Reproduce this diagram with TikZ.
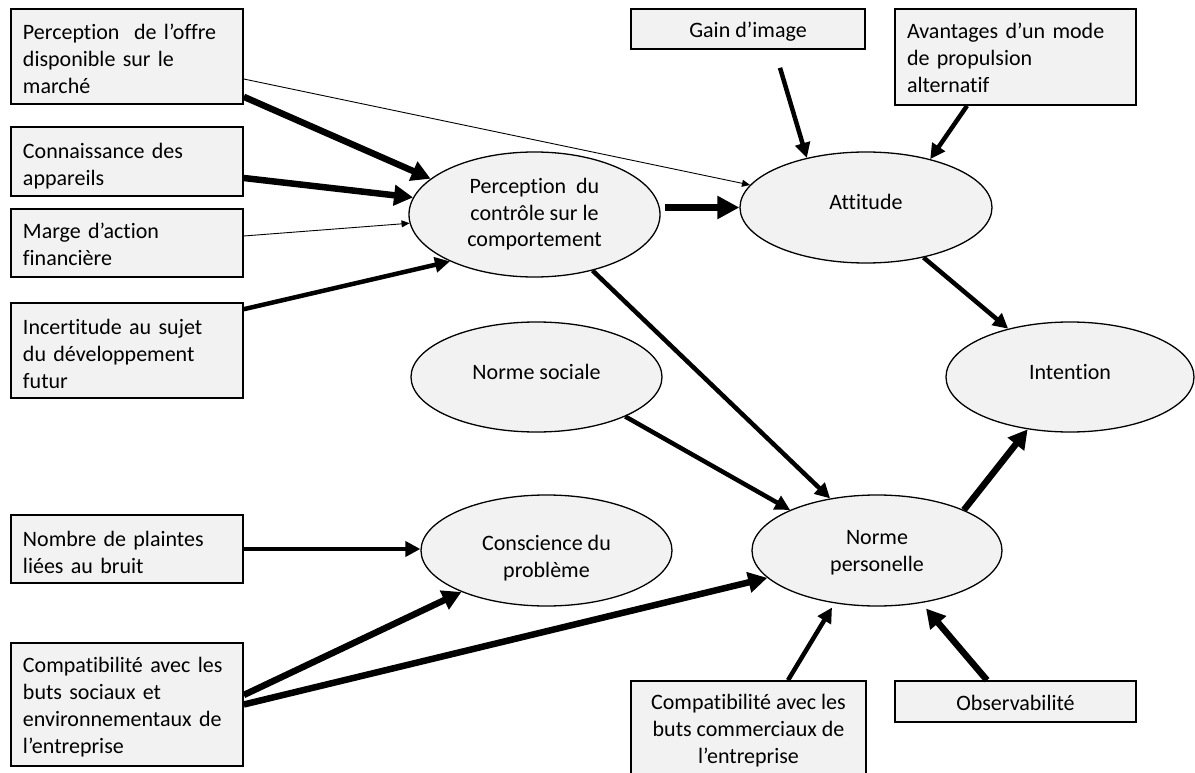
\documentclass[tikz,border=0pt]{standalone}
\usepackage{fontspec}
\setmainfont{Carlito}[Ligatures={NoCommon}]
\usetikzlibrary{arrows.meta,shapes.geometric,calc}
\definecolor{boxgray}{HTML}{F2F2F2}
\newcommand\tb[3]{\rule{0pt}{#1pt}#3\rule[-#2pt]{0pt}{#2pt}}
\begin{document}
\begin{tikzpicture}[x=1pt,y=-1pt,
  every node/.style={font=\fontsize{22pt}{27pt}\selectfont},
  lbox/.style={draw, line width=1.6pt, fill=boxgray, inner xsep=12pt, inner ysep=0pt,
    text width=208pt, align=left},
  cbox/.style={draw, line width=1.6pt, fill=boxgray, inner xsep=6pt, inner ysep=0pt, align=center},
  oval/.style={ellipse, draw, line width=1.3pt, fill=boxgray, inner sep=0pt, align=center},
  thin/.style={line width=0.9pt, -{Triangle[length=8pt,width=7pt]}},
  med/.style={line width=4.5pt, -{Triangle[length=15pt,width=15pt]}},
  thick/.style={line width=6.5pt, -{Triangle[length=19pt,width=20pt]}},
  xthick/.style={line width=7.5pt, -{Triangle[length=22pt,width=22pt]}}
]
\clip (0,0) rectangle (1195,773);
\fill[white] (0,0) rectangle (1195,773);

% left boxes
\node[lbox, minimum height=95pt] (b1) at (127,56.5) {\tb{28}{8}{Perception\ \ de l’offre\\disponible sur le\\marché}};
\node[lbox, minimum height=69pt] (b2) at (127,161.5) {\tb{29}{8}{Connaissance des\\appareils}};
\node[lbox, minimum height=68pt] (b3) at (127,243) {\tb{26}{8}{Marge d’action\\financière}};
\node[lbox, minimum height=95pt] (b4) at (127,350.5) {\tb{29}{8}{Incertitude au sujet\\du développement\\futur}};
\node[lbox, minimum height=68pt] (b5) at (127,549) {\tb{30}{8}{Nombre de plaintes\\liées au bruit}};
\node[lbox, minimum height=123pt] (b6) at (127,704.5) {\tb{24}{8}{Compatibilité avec les\\buts sociaux et\\environnementaux de\\l’entreprise}};

% top boxes
\node[cbox, minimum width=234pt, minimum height=40pt] (gain) at (748,29) {\tb{26}{8}{Gain d’image}};
\node[lbox, text width=217pt, minimum height=96pt] (av) at (1015.5,57) {\tb{26}{8}{Avantages d’un mode\\de propulsion\\alternatif}};

% bottom boxes
\node[cbox, minimum width=235pt, minimum height=96pt] (cc) at (748.5,729) {\tb{22}{8}{Compatibilité avec les\\buts commerciaux de\\l’entreprise}};
\node[cbox, minimum width=241pt, minimum height=41pt] (obs) at (1015.5,701.5) {\tb{26}{8}{Observabilité}};

% ellipses
\node[oval, minimum width=251pt, minimum height=125pt] (pc) at (534.5,214.5) {\tb{20}{9}{Perception\ \ du\\contrôle sur le\\comportement}};
\node[oval, minimum width=252pt, minimum height=111pt] (at) at (866,207.5) {\tb{20}{17}{Attitude}};
\node[oval, minimum width=248pt, minimum height=110pt] (in) at (1070,377) {\tb{20}{16}{Intention}};
\node[oval, minimum width=251pt, minimum height=110pt] (ns) at (536.5,377) {\tb{20}{16}{Norme sociale}};
\node[oval, minimum width=251pt, minimum height=111pt] (cp) at (546.5,550.5) {\tb{30}{1}{Conscience du\\problème}};
\node[oval, minimum width=250pt, minimum height=111pt] (np) at (877,550.5) {\tb{22}{8}{Norme\\personelle}};

% connectors
\draw[thick] ($(b1.south east)+(0,-8)$) -- (pc.161);
\draw[thin] ($(b1.east)+(0,22.5)$) -- (at.169);
\draw[thick] ($(b2.east)+(0,16.5)$) -- (pc.172);
\draw[thin] ($(b3.east)+(0,-7)$) -- (pc.184);
\draw[med] ($(b4.north east)+(0,7)$) -- (pc.209);
\draw[xthick] ($(pc.east |- at.west)+(4,0)$) -- (at.west);
\draw[med] (pc.-44) -- (np.132);
\draw[med] ($(gain.south)+(32,18)$) -- (at.140);
\draw[med] ($(av.south)+(-48.5,0)$) -- (at.37);
\draw[med] (at.-41) -- (in.142);
\draw[med] (ns.-24) -- (np.155);
\draw[med] (b5.east) -- (cp.west |- b5.east);
\draw[thick] ($(b6.east)+(0,-9.5)$) -- (cp.206);
\draw[thick] (b6.east) -- (np.194);
\draw[med] ($(cc.north)+(39.5,0)$) -- ($(np.center)+(-45,57)$);
\draw[thick] ($(obs.north)+(-28.5,0)$) -- ($(np.center)+(49,58)$);
\draw[thick] (np.25) -- (in.231);
\end{tikzpicture}
\end{document}
